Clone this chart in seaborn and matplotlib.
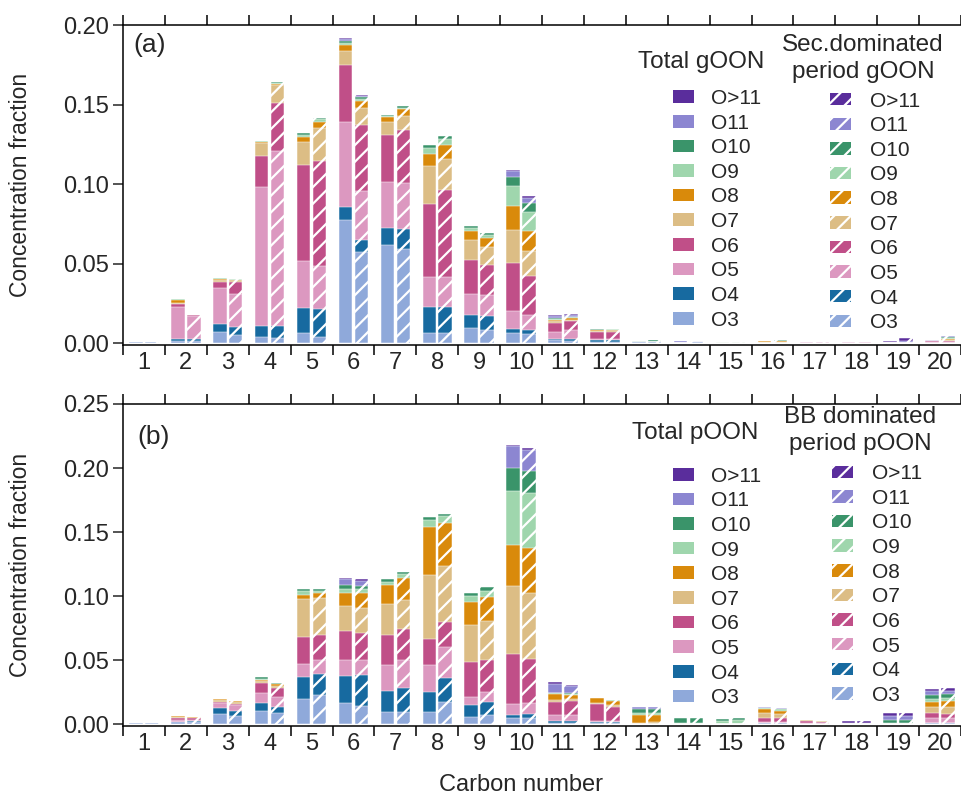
import numpy as np
import pandas as pd
import matplotlib
matplotlib.use("Agg")
import matplotlib.pyplot as plt
from matplotlib.patches import Patch
from matplotlib.ticker import FormatStrFormatter
import seaborn as sns

# Carbon numbers on the x axis and oxygen-number groups stacked in each bar
carbon = list(range(1, 21))
o_groups = ["O3", "O4", "O5", "O6", "O7", "O8", "O9", "O10", "O11", "O>11"]
o_colors = ["#8fa9da", "#176aa0", "#dc98c0", "#c04f88", "#dcbd85",
            "#d98a0b", "#9fd6ad", "#3a946a", "#8c86d1", "#5a2d9c"]

# Rows: carbon number 1..20; columns: O3, O4, O5, O6, O7, O8, O9, O10, O11, O>11
g_total = [
    [0.0008, 0, 0, 0, 0, 0, 0, 0, 0, 0],
    [0.0017, 0.0010, 0.0199, 0.0022, 0.0008, 0.0017, 0.0003, 0, 0, 0],
    [0.0069, 0.0052, 0.0224, 0.0040, 0.0013, 0.0008, 0.0003, 0.0002, 0, 0],
    [0.0042, 0.0067, 0.0876, 0.0195, 0.0078, 0.0010, 0.0003, 0.0003, 0, 0],
    [0.0063, 0.0157, 0.0298, 0.0600, 0.0145, 0.0034, 0.0013, 0.0013, 0, 0],
    [0.0776, 0.0080, 0.0535, 0.0356, 0.0092, 0.0038, 0.0010, 0.0010, 0.0015, 0.0005],
    [0.0618, 0.0105, 0.0293, 0.0294, 0.0080, 0.0029, 0.0010, 0.0008, 0, 0],
    [0.0063, 0.0168, 0.0189, 0.0457, 0.0235, 0.0080, 0.0036, 0.0019, 0, 0],
    [0.0099, 0.0080, 0.0132, 0.0214, 0.0126, 0.0057, 0.0017, 0.0010, 0, 0],
    [0.0063, 0.0025, 0.0115, 0.0300, 0.0210, 0.0151, 0.0126, 0.0055, 0.0036, 0.0010],
    [0.0020, 0.0010, 0.0042, 0.0057, 0.0013, 0.0008, 0.0006, 0.0004, 0.0010, 0.0006],
    [0.0008, 0.0012, 0.0008, 0.0042, 0.0008, 0.0004, 0.0004, 0.0002, 0, 0],
    [0.0010, 0, 0, 0, 0, 0, 0, 0.0008, 0, 0],
    [0.0005, 0, 0, 0, 0, 0, 0, 0, 0.0007, 0],
    [0.0005, 0, 0, 0, 0, 0, 0.0003, 0, 0, 0],
    [0, 0, 0, 0, 0.0008, 0.0004, 0.0003, 0.0003, 0, 0],
    [0.0004, 0, 0.0004, 0, 0, 0, 0, 0, 0, 0],
    [0.0004, 0, 0.0004, 0, 0, 0, 0, 0, 0, 0],
    [0.0003, 0, 0, 0, 0, 0, 0, 0, 0.0004, 0.0008],
    [0, 0, 0.0006, 0.0008, 0, 0, 0, 0, 0, 0.0007],
]

g_sec = [
    [0.0008, 0, 0, 0, 0, 0, 0, 0, 0, 0],
    [0.0017, 0.0010, 0.0145, 0.0006, 0, 0, 0, 0, 0, 0],
    [0.0052, 0.0048, 0.0210, 0.0073, 0.0013, 0.0004, 0.0002, 0, 0, 0],
    [0.0031, 0.0078, 0.1100, 0.0304, 0.0111, 0.0006, 0.0008, 0.0006, 0, 0],
    [0.0042, 0.0172, 0.0273, 0.0656, 0.0210, 0.0036, 0.0020, 0.0008, 0, 0],
    [0.0577, 0.0073, 0.0310, 0.0413, 0.0105, 0.0042, 0.0015, 0.0010, 0.0010, 0.0005],
    [0.0591, 0.0126, 0.0289, 0.0335, 0.0090, 0.0040, 0.0010, 0.0008, 0, 0],
    [0.0063, 0.0164, 0.0193, 0.0545, 0.0193, 0.0090, 0.0036, 0.0017, 0, 0],
    [0.0084, 0.0088, 0.0132, 0.0189, 0.0115, 0.0052, 0.0021, 0.0015, 0, 0],
    [0.0059, 0.0025, 0.0096, 0.0243, 0.0157, 0.0128, 0.0115, 0.0057, 0.0031, 0.0015],
    [0.0017, 0.0013, 0.0055, 0.0055, 0.0010, 0.0008, 0.0006, 0.0004, 0.0010, 0.0006],
    [0.0008, 0.0012, 0.0008, 0.0045, 0.0009, 0.0004, 0.0004, 0.0002, 0, 0],
    [0.0011, 0, 0, 0, 0, 0, 0, 0.0010, 0, 0],
    [0.0006, 0, 0, 0, 0, 0, 0, 0, 0.0010, 0],
    [0.0005, 0, 0, 0, 0, 0, 0.0003, 0, 0, 0],
    [0, 0, 0, 0, 0.0009, 0.0005, 0.0004, 0.0003, 0, 0],
    [0.0004, 0, 0.0004, 0, 0, 0, 0, 0, 0, 0],
    [0.0004, 0, 0.0004, 0, 0, 0, 0, 0, 0, 0],
    [0.0004, 0, 0, 0, 0, 0, 0, 0, 0.0010, 0.0017],
    [0, 0, 0.0006, 0.0006, 0.0008, 0.0008, 0.0006, 0.0006, 0.0004, 0.0004],
]

p_total = [
    [0.0005, 0, 0, 0, 0, 0, 0, 0, 0, 0],
    [0.0015, 0.0005, 0.0015, 0.0015, 0.0005, 0.0008, 0, 0, 0, 0],
    [0.0078, 0.0044, 0.0039, 0.0013, 0.0013, 0.0008, 0, 0, 0, 0],
    [0.0104, 0.0057, 0.0083, 0.0073, 0.0021, 0.0010, 0.0008, 0.0008, 0, 0],
    [0.0195, 0.0169, 0.0104, 0.0214, 0.0294, 0.0036, 0.0026, 0.0016, 0, 0],
    [0.0167, 0.0208, 0.0125, 0.0229, 0.0193, 0.0104, 0.0026, 0.0034, 0.0044, 0.0008],
    [0.0096, 0.0164, 0.0200, 0.0234, 0.0242, 0.0154, 0.0021, 0.0021, 0, 0],
    [0.0096, 0.0151, 0.0214, 0.0201, 0.0503, 0.0378, 0.0052, 0.0021, 0, 0],
    [0.0057, 0.0091, 0.0065, 0.0268, 0.0292, 0.0182, 0.0044, 0.0026, 0, 0],
    [0.0049, 0.0021, 0.0086, 0.0391, 0.0534, 0.0318, 0.0424, 0.0174, 0.0177, 0.0008],
    [0.0010, 0.0016, 0.0044, 0.0104, 0.0013, 0.0047, 0.0005, 0.0005, 0.0068, 0.0013],
    [0.0005, 0.0013, 0.0005, 0.0130, 0.0013, 0.0034, 0.0003, 0.0003, 0, 0],
    [0.0003, 0, 0, 0, 0.0008, 0.0062, 0.0015, 0.0031, 0.0011, 0],
    [0, 0, 0, 0, 0, 0, 0.0008, 0.0036, 0, 0],
    [0, 0, 0, 0, 0, 0, 0.0024, 0.0012, 0, 0],
    [0.0005, 0, 0.0013, 0.0031, 0.0036, 0.0031, 0.0008, 0.0005, 0.0008, 0],
    [0, 0, 0.0010, 0.0013, 0.0008, 0, 0, 0, 0, 0],
    [0, 0, 0, 0, 0, 0, 0, 0, 0.0008, 0.0015],
    [0, 0, 0, 0, 0, 0, 0.0008, 0.0023, 0.0031, 0.0021],
    [0.0008, 0, 0.0036, 0.0039, 0.0052, 0.0039, 0.0021, 0.0034, 0.0026, 0.0018],
]

p_bb = [
    [0.0005, 0, 0, 0, 0, 0, 0, 0, 0, 0],
    [0.0015, 0.0006, 0.0012, 0.0014, 0.0004, 0.0006, 0, 0, 0, 0],
    [0.0063, 0.0042, 0.0044, 0.0008, 0.0018, 0.0008, 0, 0, 0, 0],
    [0.0083, 0.0047, 0.0078, 0.0070, 0.0018, 0.0016, 0.0004, 0.0004, 0, 0],
    [0.0227, 0.0164, 0.0109, 0.0195, 0.0286, 0.0039, 0.0018, 0.0016, 0, 0],
    [0.0141, 0.0242, 0.0117, 0.0214, 0.0190, 0.0122, 0.0026, 0.0026, 0.0042, 0.0013],
    [0.0096, 0.0182, 0.0221, 0.0247, 0.0227, 0.0169, 0.0034, 0.0013, 0, 0],
    [0.0169, 0.0188, 0.0242, 0.0195, 0.0440, 0.0339, 0.0052, 0.0016, 0, 0],
    [0.0070, 0.0099, 0.0078, 0.0253, 0.0307, 0.0188, 0.0044, 0.0034, 0, 0],
    [0.0049, 0.0029, 0.0083, 0.0344, 0.0521, 0.0346, 0.0430, 0.0174, 0.0164, 0.0013],
    [0.0010, 0.0016, 0.0044, 0.0109, 0.0013, 0.0034, 0.0006, 0.0007, 0.0057, 0.0013],
    [0.0005, 0.0013, 0.0008, 0.0109, 0.0013, 0.0034, 0.0003, 0.0003, 0, 0],
    [0.0003, 0, 0, 0, 0.0013, 0.0057, 0.0015, 0.0031, 0.0011, 0],
    [0, 0, 0, 0, 0, 0, 0.0010, 0.0040, 0, 0],
    [0, 0, 0, 0, 0, 0, 0.0030, 0.0014, 0, 0],
    [0.0005, 0, 0.0013, 0.0026, 0.0031, 0.0031, 0.0008, 0.0005, 0.0008, 0],
    [0, 0, 0.0008, 0.0010, 0.0005, 0, 0, 0, 0, 0],
    [0, 0, 0, 0, 0, 0, 0, 0, 0.0008, 0.0015],
    [0, 0, 0, 0, 0, 0, 0.0008, 0.0023, 0.0031, 0.0021],
    [0.0008, 0, 0.0036, 0.0036, 0.0055, 0.0044, 0.0021, 0.0034, 0.0026, 0.0018],
]

sns.set_theme(style="ticks")
plt.rcParams["font.family"] = ["Liberation Sans", "DejaVu Sans"]
plt.rcParams["hatch.linewidth"] = 1.6
plt.rcParams["axes.linewidth"] = 1.0

fig = plt.figure(figsize=(9.61, 7.98), dpi=100)
W, H = 961, 798


def add_axes_px(left, top, right, bottom):
    return fig.add_axes([left / W, 1 - bottom / H, (right - left) / W, (bottom - top) / H])


ax_a = add_axes_px(123, 25, 961, 345)
ax_b = add_axes_px(123, 404, 961, 726)


def stacked_pair(ax, solid, hatched, periods):
    cum_s = np.cumsum(np.array(solid), axis=1)
    cum_h = np.cumsum(np.array(hatched), axis=1)
    # Draw cumulative totals from the top group down so each layer covers the one above
    for k in reversed(range(len(o_groups))):
        df = pd.DataFrame({
            "carbon": carbon * 2,
            "value": np.r_[cum_s[:, k], cum_h[:, k]],
            "period": [periods[0]] * len(carbon) + [periods[1]] * len(carbon),
        })
        n0 = len(ax.patches)
        sns.barplot(data=df, x="carbon", y="value", hue="period", hue_order=periods,
                    palette=[o_colors[k], o_colors[k]], saturation=1, dodge=True,
                    width=0.76, gap=0.15, errorbar=None, legend=False,
                    edgecolor="white", linewidth=0.35, ax=ax)
        for p in ax.patches[n0 + len(carbon):]:
            p.set_hatch("//")


def style_axes(ax, ylim, yticks):
    ax.set_xlim(-0.5, len(carbon) - 0.5)
    ax.set_ylim(*ylim)
    ax.set_xticks(range(len(carbon)))
    ax.set_xticklabels([str(c) for c in carbon])
    ax.set_xticks(np.arange(-0.5, len(carbon), 1.0), minor=True)
    ax.tick_params(axis="x", which="major", length=0, pad=5, labelsize=17)
    ax.tick_params(axis="x", which="minor", length=7, width=1.1, direction="out",
                   top=True, bottom=True, color="black")
    ax.set_yticks(yticks)
    ax.yaxis.set_major_formatter(FormatStrFormatter("%.2f"))
    ax.tick_params(axis="y", which="major", length=7, width=1.1, direction="out",
                   pad=3, labelsize=17)
    ax.spines["right"].set_visible(False)
    for s in ("left", "top", "bottom"):
        ax.spines[s].set_color("black")
        ax.spines[s].set_linewidth(1.1)
    ax.set_ylabel("Concentration fraction", fontsize=16.5, va="center")
    ax.yaxis.set_label_coords(-0.122, 0.5)
    ax.set_xlabel("")


def add_legends(ax, title1, title2, pos1, pos2, tpos1, tpos2):
    solid_h = [Patch(facecolor=o_colors[k], edgecolor="none", label=o_groups[k])
               for k in reversed(range(len(o_groups)))]
    hatch_h = [Patch(facecolor=o_colors[k], edgecolor="white", linewidth=0, hatch="//",
                     label=o_groups[k]) for k in reversed(range(len(o_groups)))]
    kw = dict(loc="upper left", frameon=False, fontsize=15, handlelength=1.0,
              handleheight=0.55, borderpad=0, borderaxespad=0, labelspacing=0.27)
    leg1 = ax.legend(handles=solid_h, bbox_to_anchor=pos1, handletextpad=0.85, **kw)
    ax.add_artist(leg1)
    ax.legend(handles=hatch_h, bbox_to_anchor=pos2, handletextpad=0.9, **kw)
    ax.text(*tpos1, title1, transform=ax.transAxes, ha="center", va="center", fontsize=17.5)
    ax.text(*tpos2, title2, transform=ax.transAxes, ha="center", va="center",
            fontsize=17.5, linespacing=1.3)


stacked_pair(ax_a, g_total, g_sec, ["Total gOON", "Sec.dominated period gOON"])
style_axes(ax_a, (-0.001, 0.20), np.arange(0, 0.201, 0.05))
add_legends(ax_a, "Total gOON", "Sec.dominated\nperiod gOON",
            (0.656, 0.800), (0.844, 0.792), (0.690, 0.884), (0.883, 0.896))
ax_a.text(0.012, 0.9375, "(a)", transform=ax_a.transAxes, ha="left", va="center", fontsize=19)

stacked_pair(ax_b, p_total, p_bb, ["Total pOON", "BB dominated period pOON"])
style_axes(ax_b, (-0.0015, 0.25), np.arange(0, 0.251, 0.05))
add_legends(ax_b, "Total pOON", "BB dominated\nperiod pOON",
            (0.656, 0.8055), (0.846, 0.813), (0.683, 0.910), (0.880, 0.919))
ax_b.text(0.017, 0.897, "(b)", transform=ax_b.transAxes, ha="left", va="center", fontsize=19)

ax_b.set_xlabel("Carbon number", fontsize=17, va="center")
ax_b.xaxis.set_label_coords(0.475, -0.183)

fig.savefig("out.png", dpi=100)
